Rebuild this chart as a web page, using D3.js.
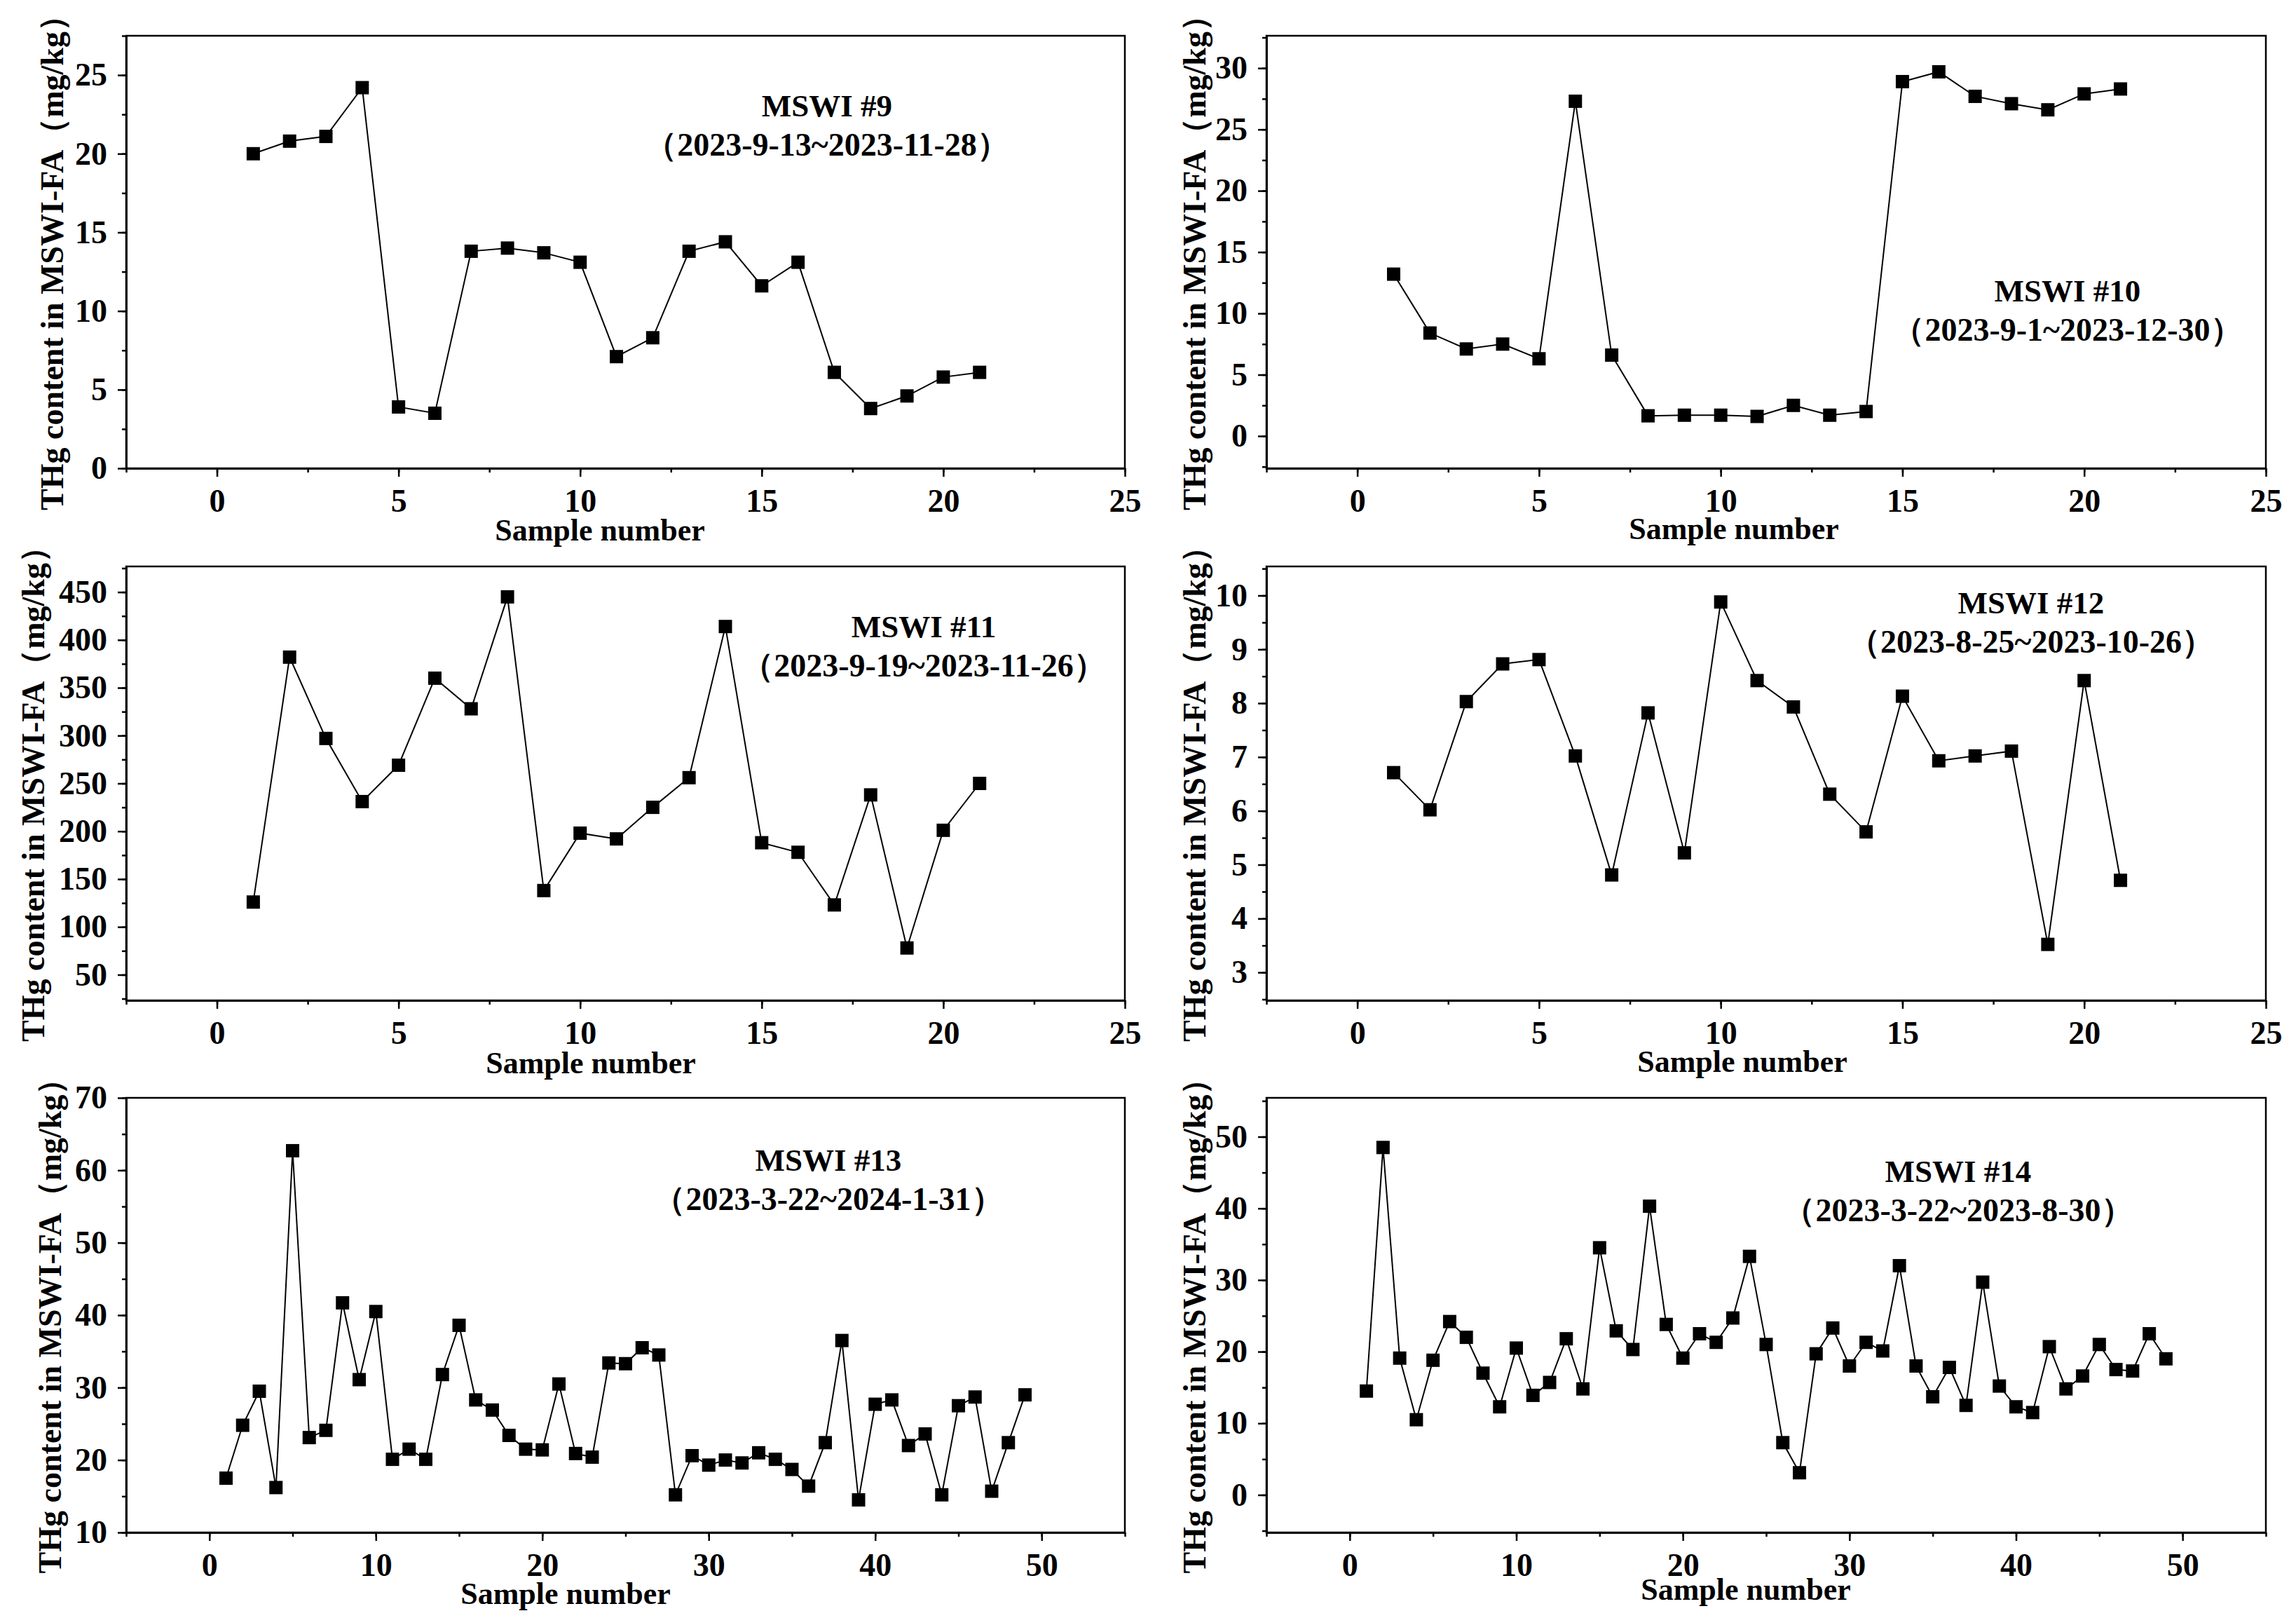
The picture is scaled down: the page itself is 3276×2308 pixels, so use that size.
<!DOCTYPE html>
<html lang="en">
<head>
<meta charset="utf-8">
<title>THg content in MSWI-FA</title>
<script src="https://cdn.jsdelivr.net/npm/d3@7"></script>
<style>
	body { margin: 0; background: #fff; }
	svg { display: block; background: #fff; }
	text { font-family: "Liberation Serif", "Times New Roman", serif; font-weight: bold; fill: #000; }
	.axis text { font-size: 46px; }
	.axis path, .axis line { stroke: #000; stroke-width: 2.5; }
</style>
</head>
<body>
<script>
// THg content (mg/kg) per sample
var mswi9  = [20.0, 20.8, 21.1, 24.2, 3.9, 3.5, 13.8, 14.0, 13.7, 13.1, 7.1, 8.3, 13.8, 14.4, 11.6, 13.1, 6.1, 3.8, 4.6, 5.8, 6.1];
var mswi10 = [13.2, 8.4, 7.1, 7.5, 6.3, 27.3, 6.6, 1.65, 1.7, 1.7, 1.6, 2.5, 1.7, 2.0, 28.9, 29.7, 27.7, 27.1, 26.6, 27.9, 28.3];
var mswi11 = [126, 382, 297, 231, 269, 360, 328, 445, 138, 198, 192, 225, 256, 414, 188, 178, 123, 238, 78, 201, 250];
var mswi12 = [6.71, 6.02, 8.03, 8.73, 8.81, 7.02, 4.81, 7.82, 5.22, 9.88, 8.42, 7.93, 6.31, 5.61, 8.13, 6.93, 7.02, 7.11, 3.52, 8.42, 4.71];
var mswi13 = [17.5, 24.8, 29.5, 16.2, 62.7, 23.1, 24.1, 41.7, 31.1, 40.5, 20.1, 21.5, 20.1, 31.8, 38.6, 28.3, 26.9, 23.4, 21.5, 21.4,
              30.5, 20.9, 20.4, 33.4, 33.3, 35.5, 34.5, 15.2, 20.6, 19.3, 20.0, 19.6, 21.0, 20.1, 18.7, 16.4, 22.4, 36.5, 14.5, 27.7,
              28.3, 22.0, 23.6, 15.2, 27.5, 28.7, 15.7, 22.4, 29.0];
var mswi14 = [14.5, 48.5, 19.1, 10.5, 18.8, 24.2, 22.0, 17.0, 12.3, 20.5, 13.9, 15.7, 21.8, 14.8, 34.5, 22.9, 20.3, 40.3, 23.8, 19.1,
              22.5, 21.3, 24.7, 33.3, 21.0, 7.3, 3.1, 19.7, 23.3, 18.0, 21.3, 20.1, 32.0, 18.0, 13.7, 17.8, 12.5, 29.7, 15.2, 12.3,
              11.5, 20.7, 14.8, 16.6, 21.0, 17.5, 17.3, 22.5, 19.0];

// plant names and sampling periods
var plantNames = ["MSWI #9", "MSWI #10", "MSWI #11", "MSWI #12", "MSWI #13", "MSWI #14"];
var periods = ["（2023-9-13~2023-11-28）", "（2023-9-1~2023-12-30）", "（2023-9-19~2023-11-26）",
               "（2023-8-25~2023-10-26）", "（2023-3-22~2024-1-31）", "（2023-3-22~2023-8-30）"];

// tick values
var xTicks21 = [0, 5, 10, 15, 20, 25];
var xTicks49 = [0, 10, 20, 30, 40, 50];
var yTicks9  = [0, 5, 10, 15, 20, 25];
var yTicks10 = [0, 5, 10, 15, 20, 25, 30];
var yTicks11 = [50, 100, 150, 200, 250, 300, 350, 400, 450];
var yTicks12 = [3, 4, 5, 6, 7, 8, 9, 10];
var yTicks13 = [10, 20, 30, 40, 50, 60, 70];
var yTicks14 = [0, 10, 20, 30, 40, 50];

var yLabel = "THg content in MSWI-FA（mg/kg）";
var xLabel = "Sample number";

var w = 3276;
var h = 2308;

// panel layout (pixel boxes, axis ranges, text anchors)
var layout = [
	{vals: mswi9,  yt: yTicks9,  xt: xTicks21, xMinor: 2.5, yMinor: 2.5, left: 180,  right: 1605, top: 51,   bottom: 668,
	 xDom: [-2.5, 25], yDom: [0, 27.5],     ylx: 74,   xlx: 856,  xly: 771,  ax: 1180, ay: 166},
	{vals: mswi10, yt: yTicks10, xt: xTicks21, xMinor: 2.5, yMinor: 2.5, left: 1807, right: 3233, top: 51,   bottom: 668,
	 xDom: [-2.5, 25], yDom: [-2.63, 32.64], ylx: 1704, xlx: 2474, xly: 769,  ax: 2950, ay: 430},
	{vals: mswi11, yt: yTicks11, xt: xTicks21, xMinor: 2.5, yMinor: 25,  left: 180,  right: 1605, top: 808,  bottom: 1427,
	 xDom: [-2.5, 25], yDom: [23.2, 476.8],  ylx: 47,   xlx: 843,  xly: 1531, ax: 1318, ay: 909},
	{vals: mswi12, yt: yTicks12, xt: xTicks21, xMinor: 2.5, yMinor: 0.5, left: 1807, right: 3233, top: 808,  bottom: 1427,
	 xDom: [-2.5, 25], yDom: [2.48, 10.54],  ylx: 1704, xlx: 2486, xly: 1529, ax: 2898, ay: 875},
	{vals: mswi13, yt: yTicks13, xt: xTicks49, xMinor: 5,   yMinor: 5,   left: 180,  right: 1605, top: 1566, bottom: 2186,
	 xDom: [-5, 55],   yDom: [10, 70],       ylx: 71,   xlx: 807,  xly: 2288, ax: 1182, ay: 1670},
	{vals: mswi14, yt: yTicks14, xt: xTicks49, xMinor: 5,   yMinor: 5,   left: 1807, right: 3233, top: 1566, bottom: 2186,
	 xDom: [-5, 55],   yDom: [-5.24, 55.43], ylx: 1704, xlx: 2491, xly: 2282, ax: 2794, ay: 1686}
];

var svg = d3.select("body")
			.append("svg")
			.attr("width", w)
			.attr("height", h);

// minor tick positions between the domain ends
function minorTicks(dom, step) {
	var out = [];
	var lo = Math.ceil(dom[0] / step - 1e-9);
	var hi = Math.floor(dom[1] / step + 1e-9);
	for (var k = lo; k <= hi; k++) out.push(+(k * step).toFixed(6));
	return out;
}

layout.forEach(function(p, idx) {
	var xScale = d3.scaleLinear().domain(p.xDom).range([p.left, p.right]);
	var yScale = d3.scaleLinear().domain(p.yDom).range([p.bottom, p.top]);
	var g = svg.append("g");

	// minor ticks
	g.append("g")
		.attr("class", "axis")
		.attr("transform", "translate(0," + p.bottom + ")")
		.call(d3.axisBottom(xScale).tickValues(minorTicks(p.xDom, p.xMinor)).tickSize(6).tickSizeOuter(0).tickFormat(""));
	g.append("g")
		.attr("class", "axis")
		.attr("transform", "translate(" + p.left + ",0)")
		.call(d3.axisLeft(yScale).tickValues(minorTicks(p.yDom, p.yMinor)).tickSize(6).tickSizeOuter(0).tickFormat(""));

	// major ticks
	g.append("g")
		.attr("class", "axis")
		.attr("transform", "translate(0," + p.bottom + ")")
		.call(d3.axisBottom(xScale).tickValues(p.xt).tickSize(12).tickSizeOuter(0).tickPadding(17).tickFormat(d3.format("d")));
	g.append("g")
		.attr("class", "axis")
		.attr("transform", "translate(" + p.left + ",0)")
		.call(d3.axisLeft(yScale).tickValues(p.yt).tickSize(12).tickSizeOuter(0).tickPadding(15).tickFormat(d3.format("d")));

	// frame
	g.append("rect")
		.attr("x", p.left)
		.attr("y", p.top)
		.attr("width", p.right - p.left)
		.attr("height", p.bottom - p.top)
		.attr("fill", "none")
		.attr("stroke", "#000")
		.attr("stroke-width", 2.5);

	// line + square markers
	var line = d3.line()
		.x(function(d, i) { return xScale(i + 1); })
		.y(function(d) { return yScale(d); });

	g.append("path")
		.datum(p.vals)
		.attr("d", line)
		.attr("fill", "none")
		.attr("stroke", "#000")
		.attr("stroke-width", 2);

	var r = 19;
	g.selectAll("rect.pt")
		.data(p.vals)
		.enter()
		.append("rect")
		.attr("class", "pt")
		.attr("x", function(d, i) { return xScale(i + 1) - r / 2; })
		.attr("y", function(d) { return yScale(d) - r / 2; })
		.attr("width", r)
		.attr("height", r)
		.attr("fill", "#000");

	// axis titles
	g.append("text")
		.attr("x", p.xlx)
		.attr("y", p.xly)
		.attr("text-anchor", "middle")
		.attr("font-size", "44px")
		.text(xLabel);

	var cy = (p.top + p.bottom) / 2 + 4;
	g.append("text")
		.attr("transform", "translate(" + p.ylx + "," + cy + ") rotate(-90)")
		.attr("text-anchor", "middle")
		.attr("dominant-baseline", "central")
		.attr("font-size", "46px")
		.text(yLabel);

	// plant name and period
	g.append("text")
		.attr("x", p.ax)
		.attr("y", p.ay)
		.attr("text-anchor", "middle")
		.attr("font-size", "45px")
		.text(plantNames[idx]);
	g.append("text")
		.attr("x", p.ax)
		.attr("y", p.ay + 56)
		.attr("text-anchor", "middle")
		.attr("font-size", "46px")
		.text(periods[idx]);
});
</script>
</body>
</html>
